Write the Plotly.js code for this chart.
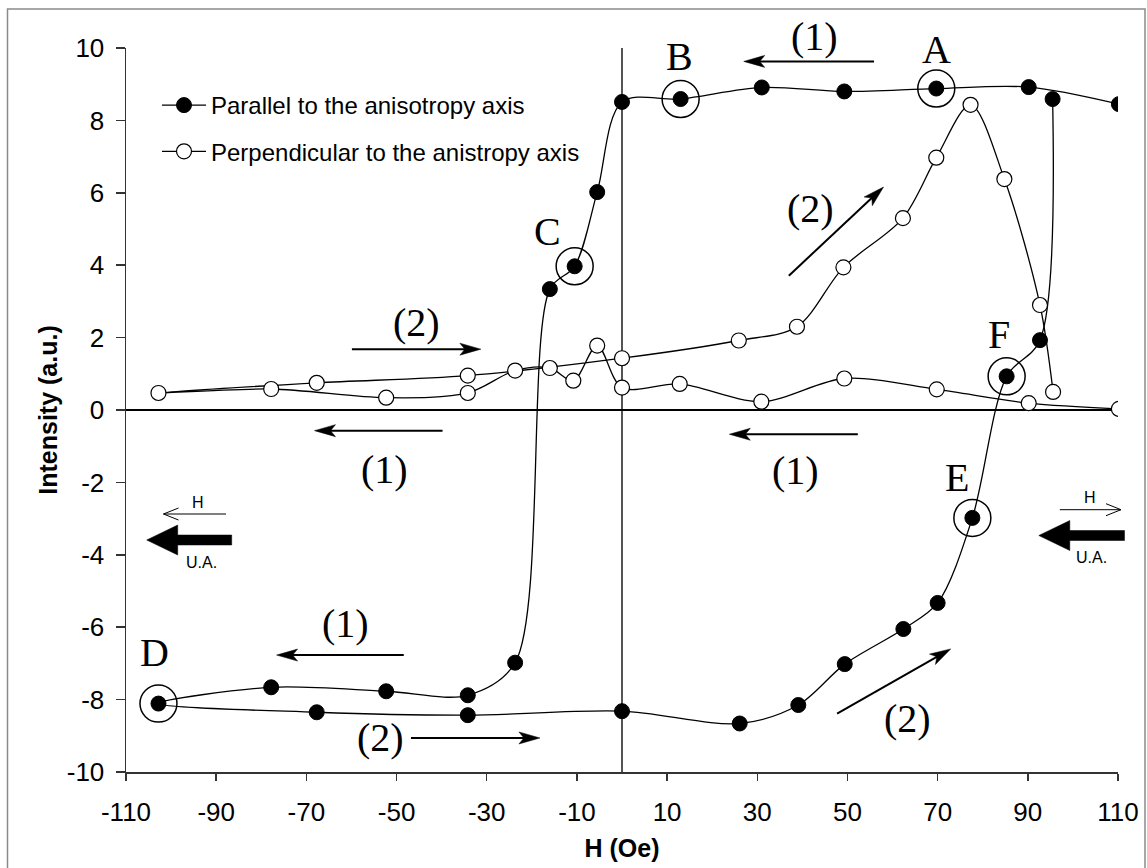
<!DOCTYPE html>
<html>
<head>
<meta charset="utf-8">
<script src="https://cdn.plot.ly/plotly-3.0.1.min.js"></script>
<style>html,body{margin:0;padding:0;background:#fff;}#chart{width:1147px;height:868px;}</style>
</head>
<body>
<div id="chart"></div>
<script>
// ---------------- data ----------------
// Parallel to the anisotropy axis (filled): branch (1) decreasing H, then branch (2) increasing H
var parH = [110.2, 90.2, 69.7, 49.3, 31.0, 13.0, 0, -5.5, -10.5, -16.0, -23.7, -34.2, -52.3, -77.8, -102.8,
            -67.7, -34.2, 0, 26.1, 39.1, 49.4, 62.4, 70.0, 77.7, 85.3, 92.7, 95.5];
var parI = [8.45, 8.92, 8.88, 8.80, 8.91, 8.59, 8.51, 6.02, 3.97, 3.34, -6.98, -7.88, -7.77, -7.66, -8.11,
            -8.35, -8.43, -8.32, -8.66, -8.15, -7.02, -6.05, -5.33, -2.98, 0.93, 1.93, 8.59];

// Perpendicular to the anisotropy axis (open)
var perH = [110.2, 90.2, 69.8, 49.3, 30.9, 12.8, 0, -5.5, -10.8, -16.0, -23.7, -34.2, -52.3, -77.8, -102.8,
            -67.7, -34.2, 0, 25.9, 38.8, 49.1, 62.3, 69.7, 77.3, 84.8, 92.7, 95.6];
var perI = [0.03, 0.19, 0.57, 0.87, 0.23, 0.72, 0.62, 1.78, 0.81, 1.16, 1.09, 0.47, 0.34, 0.58, 0.47,
            0.75, 0.95, 1.43, 1.92, 2.30, 3.94, 5.30, 6.97, 8.43, 6.38, 2.90, 0.50];

// Highlighted states A-F (on the parallel curve)
var markLabels = ['A', 'B', 'C', 'D', 'E', 'F'];
var markH = [69.7, 13.0, -10.5, -102.8, 77.7, 85.3];
var markI = [8.88, 8.59, 3.97, -8.11, -2.98, 0.93];

// Axis ticks
var xTickVals = [-110, -90, -70, -50, -30, -10, 10, 30, 50, 70, 90, 110];
var xTickText = ['-110', '-90', '-70', '-50', '-30', '-10', '10', '30', '50', '70', '90', '110'];
var yTickVals = [-10, -8, -6, -4, -2, 0, 2, 4, 6, 8, 10];
var yTickText = ['-10', '-8', '-6', '-4', '-2', '0', '2', '4', '6', '8', '10'];

var seriesNames = ['Parallel to the anisotropy axis', 'Perpendicular to the anistropy axis'];

// ---------------- layout helpers ----------------
var W = 1147, H = 868;
var M = {l: 126, r: 29, t: 48, b: 96};
var PW = W - M.l - M.r, PH = H - M.t - M.b;
var XR = [-110, 110], YR = [-10, 10];
function dx2p(x) { return (x - XR[0]) / (XR[1] - XR[0]); }   // data -> paper
function dy2p(y) { return (y - YR[0]) / (YR[1] - YR[0]); }
function px2p(px) { return (px - M.l) / PW; }                  // pixel -> paper
function py2p(py) { return (H - M.b - py) / PH; }

var serif = 'Liberation Serif, Times New Roman, serif';
var sans = 'Liberation Sans, Arial, sans-serif';

var shapes = [];
var annotations = [];

// outer frame of the figure
shapes.push({type: 'rect', xref: 'paper', yref: 'paper', layer: 'below',
  x0: px2p(7.5), x1: px2p(1145), y0: py2p(880), y1: py2p(9),
  line: {color: '#8a8a8a', width: 1.5}, fillcolor: 'rgba(0,0,0,0)'});

// arrowhead (pixel sized path shape) at tip (paper coords), direction in pixel space (y up)
function head(tipX, tipY, dxp, dyp, L, Wd, N) {
  var len = Math.sqrt(dxp * dxp + dyp * dyp);
  var ux = dxp / len, uy = dyp / len;
  var nx = -uy, ny = ux;
  var p1 = [-L * ux + Wd * nx, -L * uy + Wd * ny];
  var p2 = [-N * ux, -N * uy];
  var p3 = [-L * ux - Wd * nx, -L * uy - Wd * ny];
  var f = function (v) { return v.toFixed(2); };
  shapes.push({type: 'path', xref: 'paper', yref: 'paper', xsizemode: 'pixel', ysizemode: 'pixel',
    xanchor: tipX, yanchor: tipY,
    path: 'M0,0 L' + f(p1[0]) + ',' + f(p1[1]) + ' L' + f(p2[0]) + ',' + f(p2[1]) + ' L' + f(p3[0]) + ',' + f(p3[1]) + ' Z',
    fillcolor: 'black', line: {color: 'black', width: 0.5}});
}

// process direction arrows (data coords: tail -> head)
var arrowDefs = [
  [55.9, 9.63, 27.0, 9.63],
  [37.0, 3.71, 58.0, 6.16],
  [-59.9, 1.68, -31.3, 1.68],
  [-39.8, -0.57, -68.2, -0.57],
  [52.3, -0.67, 23.8, -0.67],
  [-48.4, -6.77, -76.6, -6.77],
  [-46.8, -9.06, -18.2, -9.06],
  [47.7, -8.39, 72.9, -6.60]
];
arrowDefs.forEach(function (a) {
  var x0 = dx2p(a[0]), y0 = dy2p(a[1]), x1 = dx2p(a[2]), y1 = dy2p(a[3]);
  var dxp = (x1 - x0) * PW, dyp = (y1 - y0) * PH;
  var len = Math.sqrt(dxp * dxp + dyp * dyp);
  var back = 14;
  var sx1 = x1 - dxp / len * back / PW, sy1 = y1 - dyp / len * back / PH;
  shapes.push({type: 'line', xref: 'paper', yref: 'paper', x0: x0, y0: y0, x1: sx1, y1: sy1,
    line: {color: 'black', width: 2}});
  head(x1, y1, dxp, dyp, 21, 6, 16);
});

// "(1)" / "(2)" branch labels (data coords; drawn in paper coords so the one above the plot is kept)
var branchLabels = [
  ['(1)', 42.8, 10.33], ['(2)', 41.7, 5.58], ['(2)', -45.6, 2.41], ['(1)', -52.7, -1.64],
  ['(1)', 38.4, -1.68], ['(1)', -61.3, -5.91], ['(2)', -53.6, -9.06], ['(2)', 63.4, -8.52]
];
branchLabels.forEach(function (b) {
  annotations.push({text: b[0], x: dx2p(b[1]), y: dy2p(b[2]), xref: 'paper', yref: 'paper', showarrow: false,
    xanchor: 'center', yanchor: 'middle', font: {family: serif, size: 40, color: 'black'}});
});

// letter labels of the highlighted states
var letterPos = [[69.7, 9.96], [12.8, 9.76], [-16.6, 4.94], [-103.7, -6.70], [74.3, -1.86], [83.6, 2.08]];
markLabels.forEach(function (t, i) {
  annotations.push({text: t, x: dx2p(letterPos[i][0]), y: dy2p(letterPos[i][1]), xref: 'paper', yref: 'paper', showarrow: false,
    xanchor: 'center', yanchor: 'middle', font: {family: serif, size: 40, color: 'black'}});
});

// field / easy-axis indicators (pixel positions)
function thinArrow(tx, ty, hx, hy) {
  shapes.push({type: 'line', xref: 'paper', yref: 'paper', x0: px2p(tx), y0: py2p(ty), x1: px2p(hx), y1: py2p(hy),
    line: {color: 'black', width: 1}});
  var s = hx < tx ? 1 : -1;
  shapes.push({type: 'path', xref: 'paper', yref: 'paper', xsizemode: 'pixel', ysizemode: 'pixel',
    xanchor: px2p(hx), yanchor: py2p(hy),
    path: 'M' + (15 * s) + ',6 L0,0 L' + (15 * s) + ',-6', line: {color: 'black', width: 1}});
}
function thickArrow(tipx, py, total) {
  shapes.push({type: 'path', xref: 'paper', yref: 'paper', xsizemode: 'pixel', ysizemode: 'pixel',
    xanchor: px2p(tipx), yanchor: py2p(py),
    path: 'M0,0 L31,15 L31,5 L' + total + ',5 L' + total + ',-5 L31,-5 L31,-15 Z',
    fillcolor: 'black', line: {color: 'black', width: 0.5}});
}
thinArrow(226, 514, 163.5, 514);
thickArrow(146.7, 540, 85);
thinArrow(1059.8, 509.7, 1121, 509.7);
thickArrow(1038.8, 535.5, 85.7);
[['H', 198.3, 502], ['U.A.', 201.7, 562], ['H', 1089.5, 497.5], ['U.A.', 1091, 557]].forEach(function (t) {
  annotations.push({text: t[0], x: px2p(t[1]), y: py2p(t[2]), xref: 'paper', yref: 'paper', showarrow: false,
    xanchor: 'center', yanchor: 'middle', font: {family: sans, size: 16, color: 'black'}});
});

// ---------------- traces ----------------
var traces = [
  {x: parH, y: parI, name: seriesNames[0], type: 'scatter', mode: 'lines+markers', legendgroup: 'g1',
   line: {color: 'black', width: 1.3, shape: 'spline', smoothing: 0.9},
   marker: {symbol: 'circle', size: 15, color: 'black', line: {color: 'black', width: 1}}},
  {x: perH, y: perI, name: seriesNames[1], type: 'scatter', mode: 'lines+markers', legendgroup: 'g2',
   line: {color: 'black', width: 1.3, shape: 'spline', smoothing: 0.9},
   marker: {symbol: 'circle', size: 15, color: 'white', line: {color: 'black', width: 1.2}}},
  {x: markH, y: markI, name: 'states', type: 'scatter', mode: 'markers', showlegend: false, hoverinfo: 'skip',
   marker: {symbol: 'circle-open', size: 37, color: 'black', line: {color: 'black', width: 1.5}}}
];

var axisCommon = {
  showgrid: false, showline: true, linecolor: '#333', linewidth: 1.5,
  ticks: 'outside', tickcolor: '#333', tickwidth: 1.5,
  tickmode: 'array', tickfont: {family: sans, size: 26, color: 'black'},
  fixedrange: true, automargin: false
};

var layout = {
  width: W, height: H,
  margin: M,
  paper_bgcolor: 'white', plot_bgcolor: 'white',
  showlegend: true,
  legend: {x: px2p(157), y: py2p(83), xanchor: 'left', yanchor: 'top', bgcolor: 'rgba(0,0,0,0)',
    font: {family: sans, size: 24, color: 'black'}, itemwidth: 44, traceorder: 'grouped', tracegroupgap: 12},
  xaxis: Object.assign({}, axisCommon, {
    range: XR, tickvals: xTickVals, ticktext: xTickText, ticklen: 7, ticklabelstandoff: 9,
    zeroline: true, zerolinecolor: '#555', zerolinewidth: 2,
    title: {text: 'H (Oe)', font: {family: sans, size: 25, color: 'black', weight: 'bold'}, standoff: 14}
  }),
  yaxis: Object.assign({}, axisCommon, {
    range: YR, tickvals: yTickVals, ticktext: yTickText, ticklen: 9, ticklabelstandoff: 6,
    zeroline: true, zerolinecolor: 'black', zerolinewidth: 1.3,
    title: {text: 'Intensity (a.u.)', font: {family: sans, size: 25, color: 'black', weight: 'bold'}, standoff: 2}
  }),
  shapes: shapes,
  annotations: annotations
};

Plotly.newPlot('chart', traces, layout, {staticPlot: true, displayModeBar: false});
</script>
</body>
</html>
